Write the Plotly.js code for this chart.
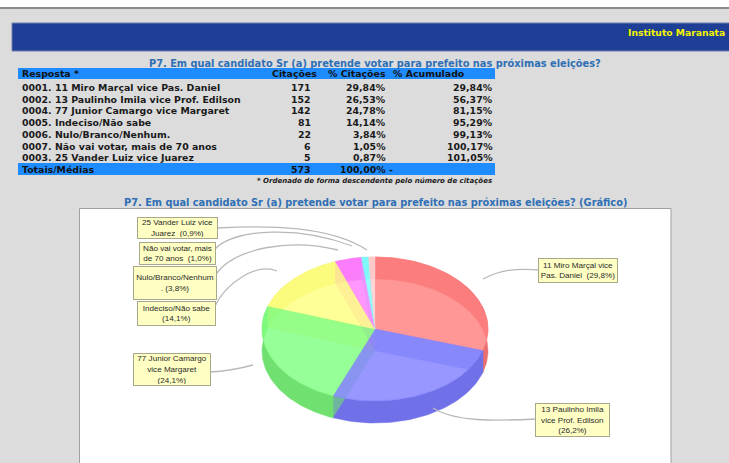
<!DOCTYPE html>
<html><head><meta charset="utf-8">
<script src="https://cdn.plot.ly/plotly-3.0.1.min.js"></script>
<style>html,body{margin:0;padding:0;background:#dcdcdc;}#chart{width:729px;height:463px;}</style>
</head><body><div id="chart"></div>
<script>
// ---- table data ----
const tableTitle = 'P7. Em qual candidato Sr (a) pretende votar para prefeito nas próximas eleições?';
const tableHeaders = ['Resposta *', 'Citações', '% Citações', '% Acumulado'];
const respostas = [
  '0001. 11 Miro Marçal vice Pas. Daniel',
  '0002. 13 Paulinho Imila vice Prof. Edilson',
  '0004. 77 Junior Camargo vice Margaret',
  '0005. Indeciso/Não sabe',
  '0006. Nulo/Branco/Nenhum.',
  '0007. Não vai votar, mais de 70 anos',
  '0003. 25 Vander Luiz vice Juarez'
];
const citacoes = [171, 152, 142, 81, 22, 6, 5];
const pctCitacoes = [29.84, 26.53, 24.78, 14.14, 3.84, 1.05, 0.87];
const pctAcumulado = [29.84, 56.37, 81.15, 95.29, 99.13, 100.17, 101.05];
const totalLabel = 'Totais/Médias';
const totalCitacoes = 573;
const totalPct = 100.00;
const footnote = '* Ordenado de forma descendente pelo número de citações';

// ---- pie chart data ----
const chartTitle = 'P7. Em qual candidato Sr (a) pretende votar para prefeito nas próximas eleições? (Gráfico)';
const pieLabels = [
  '11 Miro Marçal vice<br>Pas. Daniel  (29,8%)',
  '13 Paulinho Imila<br>vice Prof. Edilson<br>(26,2%)',
  '77 Junior Camargo<br>vice Margaret<br>(24,1%)',
  'Indeciso/Não sabe<br>(14,1%)',
  'Nulo/Branco/Nenhum<br>. (3,8%)',
  'Não vai votar, mais<br>de 70 anos  (1,0%)',
  '25 Vander Luiz vice<br>Juarez  (0,9%)'
];
const piePct = [29.8, 26.2, 24.1, 14.1, 3.8, 1.0, 0.9];
const pieTop = ['rgba(255,128,128,0.82)','rgba(128,128,255,0.82)','rgba(128,255,128,0.82)','rgba(255,255,128,0.82)','rgba(255,128,255,0.82)','rgba(128,255,255,0.82)','rgba(255,205,205,0.82)'];
const pieWall = ['rgb(232,112,112)','rgb(112,112,232)','rgb(112,225,112)','rgb(230,230,112)','rgb(230,112,230)','rgb(112,225,225)','rgb(235,180,180)'];

// ---- layout geometry (pixel coordinates) ----
const cx = 375, cy = 329, rx = 113, ry = 72, depth = 22;
const labelBoxes = [ // center x, center y, width, height
  [578, 270.5, 76, 21], [572, 420, 71, 30], [172, 369.5, 74, 29], [176.5, 313.5, 75, 21],
  [175, 283, 80, 30], [177.5, 253.5, 73, 19], [177.5, 228, 77, 18]
];
const leaders = [
  'M540,270 C515,268 500,270 483,279',
  'M536,419 C495,421 455,422 433,408',
  'M210,372 C230,371 242,368 253,365',
  'M215,306 C225,285 255,262 277,271',
  'M216,274 C235,248 290,238 338,250',
  'M215,249 C235,228 300,226 352,246',
  'M217,228 C270,225 330,226 367,250'
];

const traces = [];
const total = piePct.reduce((a, b) => a + b, 0);
function pt(t, dy) { return [cx + rx * Math.sin(t), cy - ry * Math.cos(t) + (dy || 0)]; }
const bounds = [0];
piePct.forEach(v => bounds.push(bounds[bounds.length - 1] + v / total * 2 * Math.PI));

function poly(xs, ys, fill, line) {
  traces.push({type: 'scatter', mode: 'lines', x: xs, y: ys, fill: 'toself', fillcolor: fill,
    line: {color: line, width: 0.5}, hoverinfo: 'skip', showlegend: false});
}
// outer walls
piePct.forEach((v, i) => {
  const a = bounds[i], b = bounds[i + 1], n = Math.max(4, Math.ceil((b - a) * 40));
  const xs = [], ys = [];
  for (let k = 0; k <= n; k++) { const p = pt(a + (b - a) * k / n, 0); xs.push(p[0]); ys.push(p[1]); }
  for (let k = n; k >= 0; k--) { const p = pt(a + (b - a) * k / n, depth); xs.push(p[0]); ys.push(p[1]); }
  xs.push(xs[0]); ys.push(ys[0]);
  poly(xs, ys, pieWall[i], pieWall[i]);
});
// radial walls
piePct.forEach((v, i) => {
  const p = pt(bounds[i], 0);
  poly([cx, p[0], p[0], cx, cx], [cy, p[1], p[1] + depth, cy + depth, cy], pieWall[i].replace('rgb', 'rgba').replace(')', ',0.6)'), 'rgba(0,0,0,0)');
});
// top faces
piePct.forEach((v, i) => {
  const a = bounds[i], b = bounds[i + 1], n = Math.max(4, Math.ceil((b - a) * 40));
  const xs = [cx], ys = [cy];
  for (let k = 0; k <= n; k++) { const p = pt(a + (b - a) * k / n, 0); xs.push(p[0]); ys.push(p[1]); }
  xs.push(cx); ys.push(cy);
  poly(xs, ys, pieTop[i], pieTop[i]);
});

const fmt = v => v.toFixed(2).replace('.', ',') + '%';
const F = 'DejaVu Sans, Verdana, sans-serif';
const FS = 9.4;
const ann = [];
function txt(x, y, text, anchor, size, color, extra) {
  ann.push(Object.assign({xref: 'x', yref: 'y', x: x, y: y, text: text, showarrow: false,
    xanchor: anchor, yanchor: 'middle', font: {family: F, size: size, color: color}}, extra || {}));
}
txt(626, 32.5, '<b>Instituto Maranata</b>', 'left', 9.2, '#f4f400');
txt(375, 63, '<b>' + tableTitle + '</b>', 'center', 9.8, '#2f6fb5');
txt(20, 73.5, '<b>' + tableHeaders[0] + '</b>', 'left', FS, '#111');
txt(270, 73.5, '<b>' + tableHeaders[1] + '</b>', 'left', FS, '#111');
txt(326, 73.5, '<b>' + tableHeaders[2] + '</b>', 'left', FS, '#111');
txt(391, 73.5, '<b>' + tableHeaders[3] + '</b>', 'left', FS, '#111');
respostas.forEach((r, i) => {
  const y = 87.5 + i * 11.7;
  txt(20, y, '<b>' + r + '</b>', 'left', FS, '#1a1a1a');
  txt(313, y, '<b>' + citacoes[i] + '</b>', 'right', FS, '#1a1a1a');
  txt(388, y, '<b>' + fmt(pctCitacoes[i]) + '</b>', 'right', FS, '#1a1a1a');
  txt(495, y, '<b>' + fmt(pctAcumulado[i]) + '</b>', 'right', FS, '#1a1a1a');
});
txt(20, 169, '<b>' + totalLabel + '</b>', 'left', FS, '#111');
txt(313, 169, '<b>' + totalCitacoes + '</b>', 'right', FS, '#111');
txt(388, 169, '<b>' + fmt(totalPct) + '</b>', 'right', FS, '#111');
txt(387, 169, '<b>-</b>', 'left', FS, '#111');
txt(494, 181, '<b><i>' + footnote + '</i></b>', 'right', 7, '#222');
txt(375, 202.5, '<b>' + chartTitle + '</b>', 'center', 9.8, '#2f6fb5');

pieLabels.forEach((l, i) => {
  const b = labelBoxes[i];
  ann.push({xref: 'x', yref: 'y', x: b[0], y: b[1], text: l, showarrow: false, xanchor: 'center', yanchor: 'middle',
    width: b[2], height: b[3], align: 'center', valign: 'middle',
    bgcolor: '#ffffc4', bordercolor: '#a8a88a', borderwidth: 1, borderpad: 1,
    font: {family: 'Liberation Sans, Arial, sans-serif', size: 8.1, color: '#2a2a2a'}});
});

const shapes = [
  {type: 'rect', xref: 'x', yref: 'y', x0: 0, x1: 729, y0: 0, y1: 7, fillcolor: '#ffffff', line: {width: 0}, layer: 'below'},
  {type: 'rect', xref: 'x', yref: 'y', x0: 0, x1: 729, y0: 7, y1: 9, fillcolor: '#8a8a8a', line: {width: 0}, layer: 'below'},
  {type: 'rect', xref: 'x', yref: 'y', x0: 12, x1: 735, y0: 23, y1: 51, fillcolor: '#1f3e95', line: {color: '#6f80b0', width: 1}, layer: 'below'},
  {type: 'rect', xref: 'x', yref: 'y', x0: 18, x1: 495, y0: 68, y1: 79, fillcolor: '#1e8cff', line: {width: 0}, layer: 'below'},
  {type: 'rect', xref: 'x', yref: 'y', x0: 18, x1: 495, y0: 163, y1: 175, fillcolor: '#1e8cff', line: {width: 0}, layer: 'below'},
  {type: 'rect', xref: 'x', yref: 'y', x0: 79.5, x1: 671, y0: 208.5, y1: 470, fillcolor: '#ffffff', line: {color: '#a0a0a0', width: 1}, layer: 'below'}
];
leaders.forEach(p => shapes.push({type: 'path', xref: 'x', yref: 'y', path: p, line: {color: '#b8b8b8', width: 1.3}, layer: 'above'}));

const layout = {
  width: 729, height: 463, margin: {l: 0, r: 0, t: 0, b: 0},
  paper_bgcolor: '#dcdcdc', plot_bgcolor: '#dcdcdc', showlegend: false,
  xaxis: {range: [0, 729], visible: false, fixedrange: true},
  yaxis: {range: [463, 0], visible: false, fixedrange: true},
  shapes: shapes, annotations: ann
};
Plotly.newPlot('chart', traces, layout, {staticPlot: true, displayModeBar: false});
</script></body></html>
